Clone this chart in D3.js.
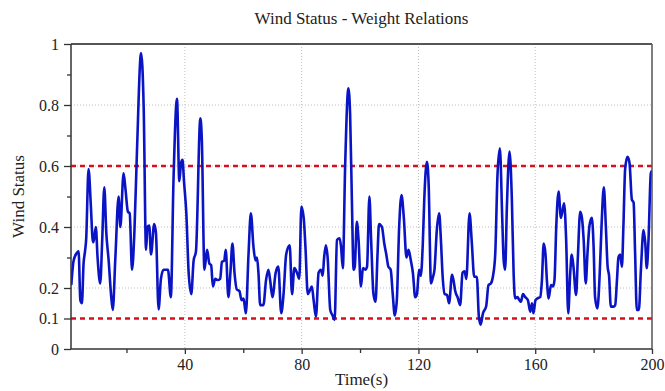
<!DOCTYPE html>
<html>
<head>
<meta charset="utf-8">
<script src="https://cdn.jsdelivr.net/npm/d3@7"></script>
<style>
  body { margin: 0; background: #fff; }
  .grid line { stroke: #bdbdbd; stroke-width: 1; stroke-dasharray: 1,2; }
</style>
</head>
<body>
<div id="chart"></div>
<script>
// wind status, (time in s, value)
const timeSec = [1.1,1.9,3.0,3.6,4.2,4.75,5.3,5.8,6.2,7.0,7.8,8.4,8.7,9.5,10.1,11.0,11.7,12.4,13.1,13.9,14.7,15.3,16.2,17.3,17.9,19.0,19.6,20.5,21.1,21.9,22.7,23.6,25.0,25.9,26.7,27.2,27.8,28.4,29.5,30.1,31.0,31.8,32.7,33.5,34.2,35.2,36.1,37.3,38.1,38.7,39.2,39.7,40.5,41.3,42.2,43.0,43.8,45.3,45.8,46.7,47.6,48.4,49.0,49.6,50.4,51.2,52.1,52.7,53.5,54.0,54.9,55.6,56.3,57.0,57.8,58.7,59.4,60.1,60.9,61.8,62.6,63.5,64.2,64.7,65.2,65.8,66.9,67.8,68.6,69.2,70.0,71.1,72.0,73.0,73.8,74.7,75.9,76.7,77.5,78.4,79.2,79.9,80.7,81.3,82.1,82.7,83.5,84.1,84.9,85.8,86.6,87.2,87.7,88.3,88.9,89.8,90.6,91.3,92.1,93.0,93.5,94.1,94.9,96.0,96.6,97.2,97.8,98.2,98.9,99.5,100.3,101.0,101.8,102.4,103.2,103.8,104.6,105.3,106.0,106.5,107.5,108.3,109.0,109.7,110.5,111.2,111.9,112.6,113.4,114.2,115.0,115.9,116.6,117.4,118.1,118.9,119.5,120.2,120.8,121.5,122.0,122.9,123.5,124.3,125.0,125.5,126.3,127.1,127.7,128.3,129.0,129.8,130.5,131.5,132.0,132.6,133.4,134.3,135.1,135.8,136.4,137.5,138.3,139.1,140.0,140.7,141.3,142.1,143.2,144.0,144.8,145.5,146.3,147.1,147.9,148.7,149.2,149.7,150.3,151.2,152.0,152.6,153.1,153.9,154.6,155.1,155.8,156.6,157.5,158.3,158.9,159.4,160.1,160.8,161.7,162.3,162.9,163.5,164.0,164.6,165.4,166.1,166.6,167.2,168.0,168.8,169.9,170.6,171.3,172.0,172.5,173.1,174.0,174.6,175.4,176.0,176.6,177.3,177.9,178.6,179.4,180.0,180.5,181.3,182.1,182.7,183.5,184.2,184.8,185.3,185.9,186.8,187.4,188.0,188.5,189.1,189.7,190.2,190.8,191.6,192.3,193.1,193.7,194.2,194.8,195.5,196.2,197.1,197.7,198.2,198.8,199.6,200];
const windStatus = [0.21,0.29,0.315,0.32,0.16,0.15,0.28,0.32,0.36,0.59,0.47,0.36,0.35,0.40,0.30,0.215,0.36,0.53,0.38,0.29,0.18,0.128,0.30,0.50,0.40,0.576,0.53,0.45,0.445,0.26,0.38,0.65,0.97,0.79,0.325,0.40,0.405,0.31,0.41,0.38,0.13,0.23,0.26,0.26,0.26,0.17,0.55,0.82,0.55,0.61,0.62,0.55,0.445,0.25,0.18,0.29,0.32,0.756,0.69,0.26,0.325,0.28,0.275,0.205,0.23,0.226,0.23,0.286,0.29,0.325,0.17,0.25,0.346,0.25,0.195,0.19,0.16,0.165,0.117,0.31,0.445,0.335,0.29,0.30,0.25,0.144,0.144,0.226,0.26,0.226,0.17,0.25,0.27,0.117,0.18,0.31,0.34,0.18,0.265,0.25,0.23,0.467,0.43,0.335,0.18,0.19,0.205,0.16,0.106,0.25,0.26,0.24,0.30,0.34,0.30,0.128,0.11,0.095,0.357,0.363,0.335,0.265,0.60,0.855,0.77,0.49,0.26,0.27,0.417,0.357,0.205,0.265,0.26,0.27,0.50,0.357,0.18,0.155,0.313,0.41,0.40,0.346,0.31,0.27,0.26,0.18,0.11,0.16,0.40,0.505,0.43,0.30,0.325,0.29,0.25,0.17,0.18,0.26,0.24,0.346,0.49,0.614,0.54,0.215,0.237,0.26,0.39,0.445,0.357,0.237,0.18,0.177,0.15,0.243,0.226,0.19,0.17,0.144,0.25,0.255,0.23,0.445,0.346,0.237,0.237,0.106,0.08,0.117,0.14,0.21,0.215,0.237,0.31,0.576,0.658,0.43,0.29,0.26,0.467,0.647,0.49,0.25,0.166,0.17,0.16,0.155,0.18,0.17,0.16,0.122,0.15,0.117,0.16,0.166,0.17,0.226,0.346,0.313,0.226,0.166,0.21,0.205,0.226,0.40,0.516,0.43,0.478,0.357,0.117,0.25,0.31,0.27,0.177,0.30,0.45,0.43,0.357,0.215,0.313,0.406,0.43,0.335,0.17,0.133,0.25,0.40,0.53,0.40,0.27,0.24,0.139,0.139,0.144,0.226,0.30,0.31,0.27,0.40,0.59,0.63,0.61,0.49,0.48,0.32,0.128,0.128,0.26,0.39,0.346,0.265,0.357,0.576,0.585];

const xTicks = [40, 80, 120, 160, 200];
const xMinorTicks = [20, 60, 100, 140, 180];
const yTicks = [0, 0.1, 0.2, 0.4, 0.6, 0.8, 1];
const yMinorTicks = [0.3, 0.5, 0.7, 0.9];
const yGrid = [0.2, 0.4, 0.6, 0.8];
const xGrid = [40, 80, 120, 160];
const thresholds = [0.6, 0.1];

const serif = '"Liberation Serif", "DejaVu Serif", "Times New Roman", serif';

const width = 665, height = 391;
const margin = {t:44, r:13, b:42, l:71};
const w = width - margin.l - margin.r;
const h = height - margin.t - margin.b;

const data = timeSec.map((t, i) => ({t: t, v: windStatus[i]}));

const svg = d3.select('#chart').append('svg')
	.attr('width', width)
	.attr('height', height);

const plot = svg.append('g')
	.attr('transform', `translate(${margin.l},${margin.t})`);

const scaleX = d3.scaleLinear().domain([1, 200]).range([0, w]);
const scaleY = d3.scaleLinear().domain([0, 1]).range([h, 0]);

//grid
const grid = plot.append('g').attr('class', 'grid');
grid.selectAll('.gy').data(yGrid).enter().append('line')
	.attr('x1', 0).attr('x2', w)
	.attr('y1', d => scaleY(d)).attr('y2', d => scaleY(d));
grid.selectAll('.gx').data(xGrid).enter().append('line')
	.attr('y1', 0).attr('y2', h)
	.attr('x1', d => scaleX(d)).attr('x2', d => scaleX(d));

//threshold lines
plot.selectAll('.thr').data(thresholds).enter().append('line')
	.attr('class', 'thr')
	.attr('x1', 0).attr('x2', w)
	.attr('y1', d => scaleY(d)).attr('y2', d => scaleY(d))
	.style('stroke', '#d7101e')
	.style('stroke-width', 2.5)
	.style('stroke-dasharray', '5,4');

//line
plot.append('clipPath').attr('id', 'clip')
	.append('rect').attr('width', w).attr('height', h + 10).attr('y', -5);
const line = d3.line()
	.x(d => scaleX(d.t))
	.y(d => scaleY(d.v))
	.curve(d3.curveMonotoneX);
plot.append('path')
	.datum(data)
	.attr('clip-path', 'url(#clip)')
	.attr('d', line)
	.style('fill', 'none')
	.style('stroke', '#0a14c4')
	.style('stroke-width', 2.6)
	.style('stroke-linejoin', 'round');

//axes
const axisY = d3.axisLeft(scaleY)
	.tickValues(yTicks)
	.tickSize(7)
	.tickPadding(5)
	.tickFormat(d => d);
const axisYMinor = d3.axisLeft(scaleY)
	.tickValues(yMinorTicks)
	.tickSize(4)
	.tickFormat('');
const axisX = d3.axisBottom(scaleX)
	.tickValues(xTicks)
	.tickSize(5)
	.tickPadding(5)
	.tickFormat(d => d);
const axisXMinor = d3.axisBottom(scaleX)
	.tickValues(xMinorTicks)
	.tickSize(4)
	.tickFormat('');

function styleAxis(g){
	g.attr('font-family', serif);
	g.select('.domain').remove();
	g.selectAll('line').style('stroke', '#333').style('stroke-width', 1.3);
	g.selectAll('text')
		.style('font-family', serif)
		.style('font-size', '16px')
		.style('fill', '#222');
}

plot.append('g').call(axisY).call(styleAxis);
plot.append('g').call(axisYMinor).call(styleAxis);
plot.append('g').attr('transform', `translate(0,${h})`).call(axisX).call(styleAxis);
plot.append('g').attr('transform', `translate(0,${h})`).call(axisXMinor).call(styleAxis);

//frame
plot.append('line').attr('x1', 0).attr('x2', w).attr('y1', 0).attr('y2', 0)
	.style('stroke', '#555').style('stroke-width', 2);
plot.append('line').attr('x1', w).attr('x2', w).attr('y1', 0).attr('y2', h)
	.style('stroke', '#555').style('stroke-width', 1.5);
plot.append('line').attr('x1', 0).attr('x2', 0).attr('y1', 0).attr('y2', h)
	.style('stroke', '#333').style('stroke-width', 1.5);
plot.append('line').attr('x1', 0).attr('x2', w).attr('y1', h).attr('y2', h)
	.style('stroke', '#333').style('stroke-width', 1.5);

//labels
function label(sel, size){
	return sel.style('font-family', serif).style('font-size', size).style('fill', '#222');
}
svg.append('text')
	.attr('x', margin.l + w / 2).attr('y', 24)
	.attr('text-anchor', 'middle')
	.call(label, '17px')
	.text('Wind Status - Weight Relations');
svg.append('text')
	.attr('x', margin.l + w / 2).attr('y', 385)
	.attr('text-anchor', 'middle')
	.call(label, '17px')
	.text('Time(s)');
svg.append('text')
	.attr('transform', `translate(24,${margin.t + h / 2}) rotate(-90)`)
	.attr('text-anchor', 'middle')
	.call(label, '17px')
	.text('Wind Status');
</script>
</body>
</html>
